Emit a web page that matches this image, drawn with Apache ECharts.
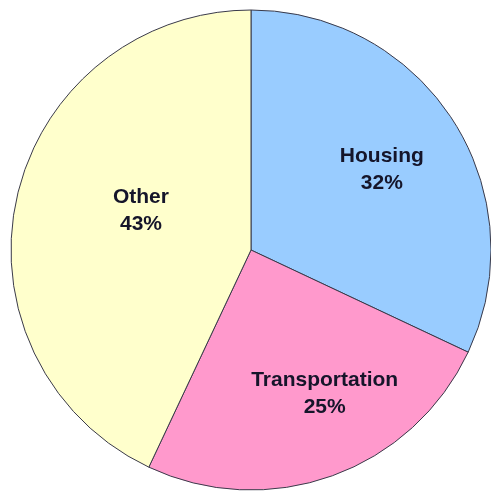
<!DOCTYPE html>
<html>
<head>
<meta charset="utf-8">
<style>
html,body{margin:0;padding:0;background:#fff;}
#chart{width:491px;height:495px;}
</style>
<script src="https://cdn.jsdelivr.net/npm/echarts@6/dist/echarts.min.js"></script>
</head>
<body>
<div id="chart"></div>
<script>
var categories = ['Housing', 'Transportation', 'Other'];
var values = [32, 25, 43];
var colors = ['#99CCFF', '#FF99CC', '#FFFFCC'];
var labelShift = [[27, -14], [32, 28], [10, -12]];

var chart = echarts.init(document.getElementById('chart'), null, {renderer: 'canvas'});
var data = categories.map(function (c, i) {
  return {name: c, value: values[i], itemStyle: {color: colors[i]}};
});
chart.setOption({
  animation: false,
  backgroundColor: '#ffffff',
  series: [{
    type: 'pie',
    center: [251, 250],
    radius: [0, 240],
    startAngle: 90,
    clockwise: true,
    silent: true,
    itemStyle: {borderColor: '#3a3a4a', borderWidth: 1},
    label: {
      show: true,
      position: 'inner',
      formatter: '{b}\n{d}%',
      fontFamily: 'Liberation Sans, Arial, sans-serif',
      fontWeight: 'bold',
      fontSize: 21,
      lineHeight: 27,
      color: '#15152a',
      align: 'center'
    },
    labelLine: {show: false},
    labelLayout: function (p) {
      var s = labelShift[p.dataIndex];
      return {dx: s[0], dy: s[1]};
    },
    data: data
  }]
});
</script>
</body>
</html>
